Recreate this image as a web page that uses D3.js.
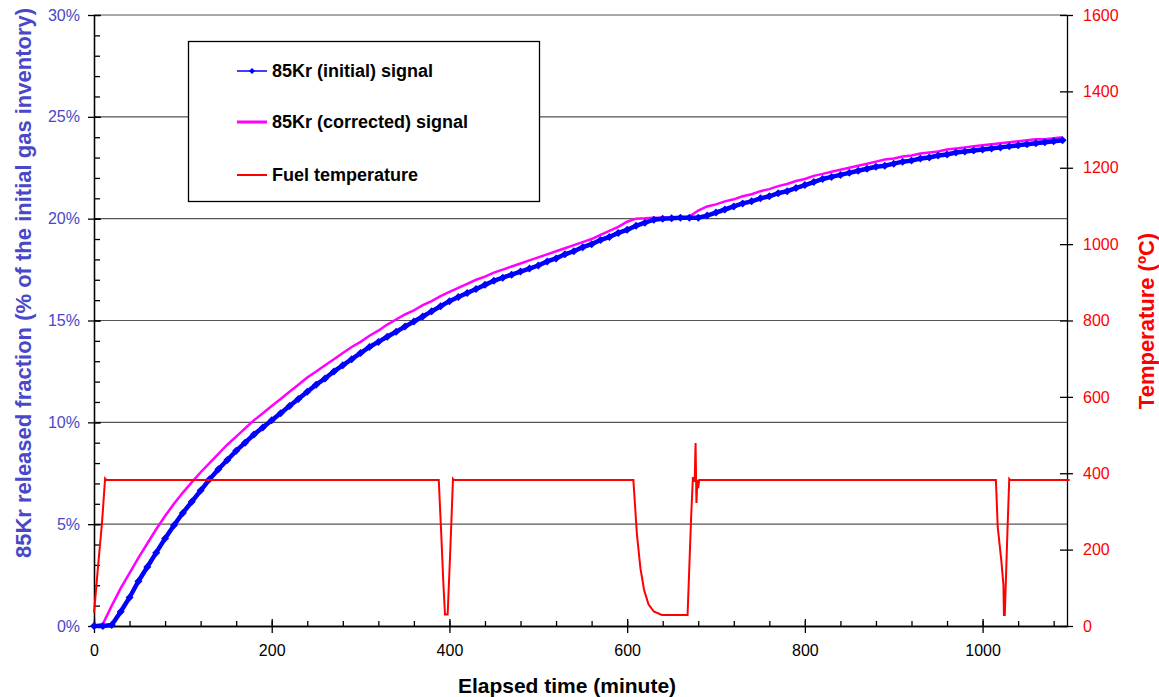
<!DOCTYPE html>
<html>
<head>
<meta charset="utf-8">
<script src="https://cdn.jsdelivr.net/npm/d3@7"></script>
<style>
body { margin: 0; background: #fff; }
text { font-family: "Liberation Sans", Arial, sans-serif; }
</style>
</head>
<body>
<script>
// sample times of the Kr signals (minutes, every 10 min)
var sampleTimes = d3.range(0, 1100, 10);

// 85Kr initial signal (% of initial gas inventory)
var krInitial = [
  0, 0, 0.05, 0.7, 1.4, 2.2, 2.9, 3.6, 4.3, 4.95,
  5.55, 6.1, 6.65, 7.2, 7.7, 8.15, 8.6, 9.0, 9.4, 9.75,
  10.1, 10.45, 10.8, 11.15, 11.5, 11.85, 12.15, 12.5, 12.8, 13.1,
  13.4, 13.7, 13.95, 14.2, 14.45, 14.7, 14.95, 15.2, 15.45, 15.7,
  15.95, 16.15, 16.35, 16.55, 16.75, 16.95, 17.1, 17.25, 17.4, 17.55,
  17.7, 17.9, 18.05, 18.25, 18.4, 18.6, 18.75, 18.95, 19.1, 19.3,
  19.45, 19.65, 19.8, 19.95, 20.0, 20.02, 20.05, 20.05, 20.05, 20.15,
  20.3, 20.45, 20.6, 20.75, 20.85, 21.0, 21.1, 21.25, 21.35, 21.5,
  21.65, 21.8, 21.95, 22.05, 22.15, 22.25, 22.35, 22.45, 22.55, 22.6,
  22.7, 22.8, 22.85, 22.95, 23.0, 23.1, 23.15, 23.25, 23.3, 23.35,
  23.4, 23.45, 23.5, 23.55, 23.6, 23.65, 23.7, 23.75, 23.8, 23.85
];

// 85Kr corrected signal
var krCorrected = [
  0, 0.1, 1.0, 1.85, 2.6, 3.35, 4.05, 4.75, 5.4, 6.0,
  6.55, 7.05, 7.55, 8.0, 8.45, 8.9, 9.3, 9.7, 10.1, 10.45,
  10.8, 11.15, 11.5, 11.85, 12.2, 12.5, 12.8, 13.1, 13.4, 13.7,
  13.95, 14.25, 14.5, 14.8, 15.05, 15.3, 15.5, 15.75, 15.95, 16.2,
  16.4, 16.6, 16.8, 17.0, 17.15, 17.35, 17.5, 17.65, 17.8, 17.95,
  18.1, 18.25, 18.4, 18.55, 18.7, 18.85, 19.0, 19.2, 19.4, 19.6,
  19.85, 20.0, 20.02, 20.05, 20.05, 20.05, 20.05, 20.1, 20.4, 20.6,
  20.7, 20.85, 20.95, 21.1, 21.2, 21.35, 21.45, 21.6, 21.7, 21.85,
  21.95, 22.1, 22.2, 22.3, 22.4, 22.5, 22.6, 22.7, 22.8, 22.9,
  22.95, 23.05, 23.1, 23.2, 23.25, 23.3, 23.4, 23.45, 23.5, 23.55,
  23.6, 23.65, 23.7, 23.75, 23.8, 23.85, 23.9, 23.9, 23.95, 24.0
];

// fuel temperature (time in min, temperature in degC)
var tempTimes = [
  0, 1, 4.5, 9, 12.5, 14,
  388, 391, 393, 395, 398, 401, 404, 405,
  607, 611, 615, 619, 624, 630, 639, 668, 672, 674, 676, 677, 678, 679, 680, 681,
  1015, 1017, 1021, 1023.5, 1024, 1025, 1028, 1030, 1031, 1098
];
var tempValues = [
  35, 60, 155, 270, 386, 382,
  382, 230, 120, 30, 30, 200, 385, 382,
  382, 240, 150, 95, 57, 38, 29, 29, 285, 390, 378, 479, 322, 382, 361, 382,
  382, 260, 173, 107, 29, 29, 250, 385, 382, 382
];

var xTicks = [0, 200, 400, 600, 800, 1000];
var pctTicks = [0, 5, 10, 15, 20, 25, 30];
var tempTicks = [0, 200, 400, 600, 800, 1000, 1200, 1400, 1600];

var legendLabels = ["85Kr (initial) signal", "85Kr (corrected) signal", "Fuel temperature"];

var width = 1159, height = 697;
var blueText = "#4848c8";

var svg = d3.select("body").append("svg")
    .attr("width", width)
    .attr("height", height);

var x = d3.scaleLinear().domain([0, 1095]).range([94, 1067]);
var yP = d3.scaleLinear().domain([0, 30]).range([626, 15]);
var yT = d3.scaleLinear().domain([0, 1600]).range([626, 15]);

// grid lines
svg.append("g").selectAll("line")
    .data(pctTicks.slice(1))
    .enter().append("line")
    .attr("x1", x.range()[0]).attr("x2", x.range()[1])
    .attr("y1", d => yP(d)).attr("y2", d => yP(d))
    .style("stroke", "#555")
    .style("stroke-width", 1.2);

function styleAxis(g, color) {
    g.selectAll("path, line").style("stroke", "#000").style("stroke-width", 1.3);
    g.selectAll("text").style("fill", color).style("font-size", "16px");
}

// bottom axis
svg.append("g").attr("transform", "translate(0,626)")
    .call(d3.axisBottom(x).tickValues(d3.range(0, 1095, 40)).tickSize(-5).tickSizeOuter(0).tickFormat(""))
    .call(g => styleAxis(g, "#000"));
svg.append("g").attr("transform", "translate(0,626)")
    .call(d3.axisBottom(x).tickValues(xTicks).tickSize(7).tickSizeOuter(0).tickPadding(12).tickFormat(d3.format("d")))
    .call(g => styleAxis(g, "#000"))
    .call(g => g.selectAll(".tick line").attr("y1", -7));

// left axis
svg.append("g").attr("transform", "translate(94,0)")
    .call(d3.axisLeft(yP).tickValues(d3.range(0, 31, 1)).tickSize(-6).tickSizeOuter(0).tickFormat(""))
    .call(g => styleAxis(g, blueText));
svg.append("g").attr("transform", "translate(94,0)")
    .call(d3.axisLeft(yP).tickValues(pctTicks).tickSize(6).tickSizeOuter(0).tickPadding(8).tickFormat(d => d + "%"))
    .call(g => styleAxis(g, blueText))
    .call(g => g.selectAll(".tick line").attr("x1", 7));

// right axis
svg.append("g").attr("transform", "translate(1067,0)")
    .call(d3.axisRight(yT).tickValues(tempTicks).tickSize(6).tickSizeOuter(0).tickPadding(10).tickFormat(d3.format("d")))
    .call(g => styleAxis(g, "#ff0000"))
    .call(g => g.selectAll(".tick line").attr("x1", -7));

// axis titles
svg.append("text")
    .attr("transform", "translate(23,283) rotate(-90)")
    .attr("text-anchor", "middle")
    .attr("dy", "0.35em")
    .style("font-size", "22px").style("font-weight", "bold")
    .style("fill", blueText)
    .text("85Kr released fraction (% of the initial gas inventory)");

svg.append("text")
    .attr("transform", "translate(1146,321) rotate(-90)")
    .attr("text-anchor", "middle")
    .attr("dy", "0.35em")
    .style("font-size", "22px").style("font-weight", "bold")
    .style("fill", "#ff0000")
    .text("Temperature (\u00baC)");

svg.append("text")
    .attr("x", 567).attr("y", 686)
    .attr("text-anchor", "middle")
    .attr("dy", "0.35em")
    .style("font-size", "21px").style("font-weight", "bold")
    .style("fill", "#000")
    .text("Elapsed time (minute)");

// series
var initialPts = sampleTimes.map((t, i) => [t, krInitial[i]]);
var correctedPts = sampleTimes.map((t, i) => [t, krCorrected[i]]);
var tempPts = tempTimes.map((t, i) => [t, tempValues[i]]);

var linePct = d3.line().x(d => x(d[0])).y(d => yP(d[1]));
var lineTemp = d3.line().x(d => x(d[0])).y(d => yT(d[1]));
var diamond = "M0,-4L4,0L0,4L-4,0Z";

svg.append("path").datum(correctedPts)
    .attr("d", linePct)
    .style("fill", "none").style("stroke", "#ff00ff").style("stroke-width", 2.5);

svg.append("path").datum(initialPts)
    .attr("d", linePct)
    .style("fill", "none").style("stroke", "#0000ff").style("stroke-width", 4.5);

svg.append("g").selectAll("path")
    .data(initialPts)
    .enter().append("path")
    .attr("d", diamond)
    .attr("transform", d => "translate(" + x(d[0]) + "," + yP(d[1]) + ")")
    .style("fill", "#0000ff");

svg.append("path").datum(tempPts)
    .attr("d", lineTemp)
    .style("fill", "none").style("stroke", "#ff0000").style("stroke-width", 2);

// legend
var legend = svg.append("g");
legend.append("rect")
    .attr("x", 188.5).attr("y", 41.5)
    .attr("width", 351).attr("height", 160)
    .style("fill", "#fff").style("stroke", "#000").style("stroke-width", 1.3);

var legendColors = ["#0000ff", "#ff00ff", "#ff0000"];
var legendWidths = [1.5, 3, 2];
var legendY = [71, 122, 175];

legendLabels.forEach(function(lbl, i) {
    legend.append("line")
        .attr("x1", 237).attr("x2", 267)
        .attr("y1", legendY[i]).attr("y2", legendY[i])
        .style("stroke", legendColors[i]).style("stroke-width", legendWidths[i]);
    if (i === 0) {
        legend.append("path").attr("d", "M0,-3L3,0L0,3L-3,0Z")
            .attr("transform", "translate(252," + legendY[i] + ")")
            .style("fill", "#0000ff");
    }
    legend.append("text")
        .attr("x", 272).attr("y", legendY[i])
        .attr("dy", "0.35em")
        .style("font-size", "18px").style("font-weight", "bold")
        .text(lbl);
});
</script>
</body>
</html>
